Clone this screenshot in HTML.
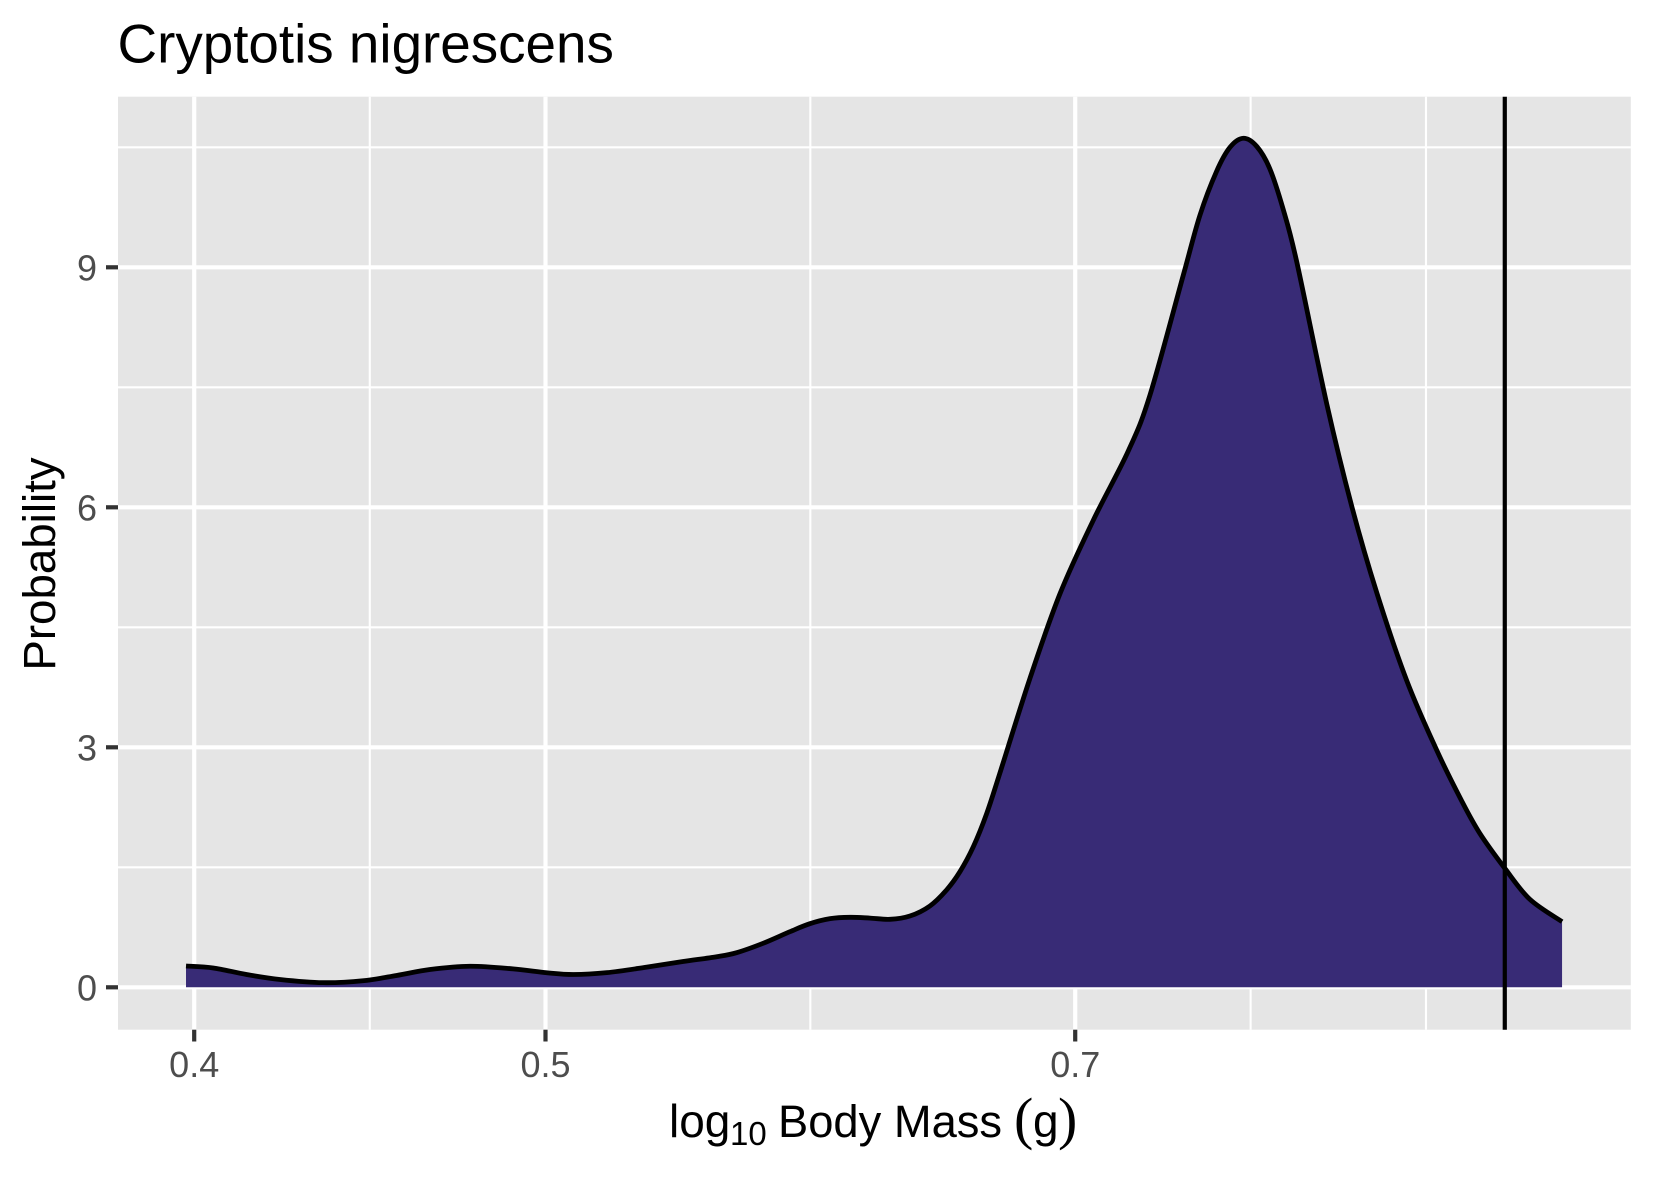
<!DOCTYPE html>
<html lang="en">
<head>
<meta charset="utf-8">
<title>Cryptotis nigrescens</title>
<style>
html,body{margin:0;padding:0;background:#fff;width:1653px;height:1181px;overflow:hidden}
svg{display:block}
text{font-family:"Liberation Sans",sans-serif}
</style>
</head>
<body>
<svg id="chart" xmlns="http://www.w3.org/2000/svg" width="1653" height="1181" viewBox="0 0 1653 1181">
  <rect x="0" y="0" width="1653" height="1181" fill="#ffffff"/>
  <rect x="118" y="96.7" width="1512.8" height="933" fill="#e5e5e5"/>
  <g id="grid"></g>
  <path id="area" fill="#382b76" stroke="none"/>
  <path id="curve" fill="none" stroke="#000000" stroke-width="4.8"/>
  <g id="refline"></g>
  <g id="axes"></g>
  <text x="117.5" y="62.7" font-size="54.8" fill="#000000">Cryptotis nigrescens</text>
  <text transform="translate(55,564) rotate(-90)" text-anchor="middle" font-size="45.7" fill="#000000">Probability</text>
  <g fill="#000000">
    <text x="669" y="1137" font-size="46">log</text>
    <text x="730" y="1145" font-size="33">10</text>
    <text x="778" y="1137" font-size="45.3">Body Mass</text>
    <text x="1014" y="1138" font-size="58" style="font-family:'Liberation Serif',serif">(</text>
    <text x="1033" y="1137" font-size="46">g</text>
    <text x="1058" y="1138" font-size="58" style="font-family:'Liberation Serif',serif">)</text>
  </g>
</svg>
<script>
const logMass = [-.4002,-.3927,-.3835,-.3743,-.3624,-.3514,-.3421,-.3329,-.3219,-.3100,-.3007,-.2934,-.2841,-.2731,-.2631,-.2538,-.2483,-.2410,-.2336,-.2281,-.2225,-.2170,-.2115,-.2060,-.2005,-.1950,-.1904,-.1867,-.1830,-.1793,-.1757,-.1674,-.1591,-.1499,-.1403,-.1343,-.1251,-.1205,-.1159,-.1122,-.1085,-.1048,-.1012,-.0975,-.0938,-.0855,-.0786,-.0717,-.0635,-.0552,-.0484,-.0433,-.0364,-.0295,-.0206];
const density = [.266,.242,.160,.098,.058,.082,.148,.222,.263,.230,.182,.160,.183,.252,.322,.382,.433,.55,.695,.795,.858,.875,.865,.85,.891,1.016,1.216,1.445,1.758,2.175,2.675,3.86,4.92,5.84,6.70,7.40,8.90,9.65,10.20,10.50,10.613,10.51,10.23,9.72,9.07,7.29,6.01,4.93,3.84,2.966,2.34,1.925,1.488,1.10,.82];
const xTickValues = [0.4, 0.5, 0.7];
const xTickLabels = ["0.4", "0.5", "0.7"];
const xMinorValues = [0.4472, 0.5916, 0.7825, 0.8747];
const yTickValues = [0, 3, 6, 9];
const yTickLabels = ["0", "3", "6", "9"];
const yMinorValues = [1.5, 4.5, 7.5, 10.5];
const referenceMass = [0.9196];

const SVGNS = "http://www.w3.org/2000/svg";
const panel = {left: 118, right: 1630.8, top: 96.7, bottom: 1029.7};
function xScaleLog(u) { return 194.2 + (u - Math.log10(0.4)) * 3625; }
function xScale(v) { return xScaleLog(Math.log10(v)); }
function yScale(v) { return 987.3 - v * 80; }

function makeLine(parent, x1, y1, x2, y2, color, width) {
  const el = document.createElementNS(SVGNS, "line");
  el.setAttribute("x1", x1);
  el.setAttribute("y1", y1);
  el.setAttribute("x2", x2);
  el.setAttribute("y2", y2);
  el.setAttribute("stroke", color);
  el.setAttribute("stroke-width", width);
  parent.appendChild(el);
  return el;
}
function makeText(parent, x, y, str, anchor) {
  const el = document.createElementNS(SVGNS, "text");
  el.setAttribute("x", x);
  el.setAttribute("y", y);
  el.setAttribute("text-anchor", anchor);
  el.setAttribute("font-size", "36");
  el.setAttribute("fill", "#4d4d4d");
  el.textContent = str;
  parent.appendChild(el);
  return el;
}

const grid = document.getElementById("grid");
yMinorValues.forEach(function (v) {
  const el = makeLine(grid, panel.left, yScale(v), panel.right, yScale(v), "#ffffff", 2.1);
  
  
});
xMinorValues.forEach(function (v) {
  const el = makeLine(grid, xScale(v), panel.top, xScale(v), panel.bottom, "#ffffff", 2.1);
  
  
});
yTickValues.forEach(function (v) {
  const el = makeLine(grid, panel.left, yScale(v), panel.right, yScale(v), "#ffffff", 4.2);
  
  
});
xTickValues.forEach(function (v) {
  const el = makeLine(grid, xScale(v), panel.top, xScale(v), panel.bottom, "#ffffff", 4.2);
  
  
});

const pts = logMass.map(function (u, i) { return [xScaleLog(u), yScale(density[i])]; });
function smoothPath(p) {
  let d = "M" + p[0][0].toFixed(2) + " " + p[0][1].toFixed(2);
  for (let i = 0; i < p.length - 1; i++) {
    const p0 = p[Math.max(i - 1, 0)], p1 = p[i], p2 = p[i + 1], p3 = p[Math.min(i + 2, p.length - 1)];
    const c1x = p1[0] + (p2[0] - p0[0]) / 6, c1y = p1[1] + (p2[1] - p0[1]) / 6;
    const c2x = p2[0] - (p3[0] - p1[0]) / 6, c2y = p2[1] - (p3[1] - p1[1]) / 6;
    d += "C" + c1x.toFixed(2) + " " + c1y.toFixed(2) + " " + c2x.toFixed(2) + " " + c2y.toFixed(2) + " " + p2[0].toFixed(2) + " " + p2[1].toFixed(2);
  }
  return d;
}
const linePath = smoothPath(pts);
document.getElementById("curve").setAttribute("d", linePath);
document.getElementById("area").setAttribute("d", linePath + "L" + pts[pts.length - 1][0].toFixed(2) + " " + yScale(0) + "L" + pts[0][0].toFixed(2) + " " + yScale(0) + "Z");

const refGroup = document.getElementById("refline");
referenceMass.forEach(function (v) {
  const el = makeLine(refGroup, xScale(v), panel.top, xScale(v), panel.bottom, "#000000", 4.2);
  
  
});

const axes = document.getElementById("axes");
yTickValues.forEach(function (v, i) {
  const tick = makeLine(axes, 106, yScale(v), panel.left, yScale(v), "#333333", 4.2);
  
  
  const label = makeText(axes, 97, yScale(v) + 13, yTickLabels[i], "end");
  
  
});
xTickValues.forEach(function (v, i) {
  const tick = makeLine(axes, xScale(v), panel.bottom, xScale(v), 1041.5, "#333333", 4.2);
  
  
  const label = makeText(axes, xScale(v), 1077, xTickLabels[i], "middle");
  
  
});
</script>
</body>
</html>
